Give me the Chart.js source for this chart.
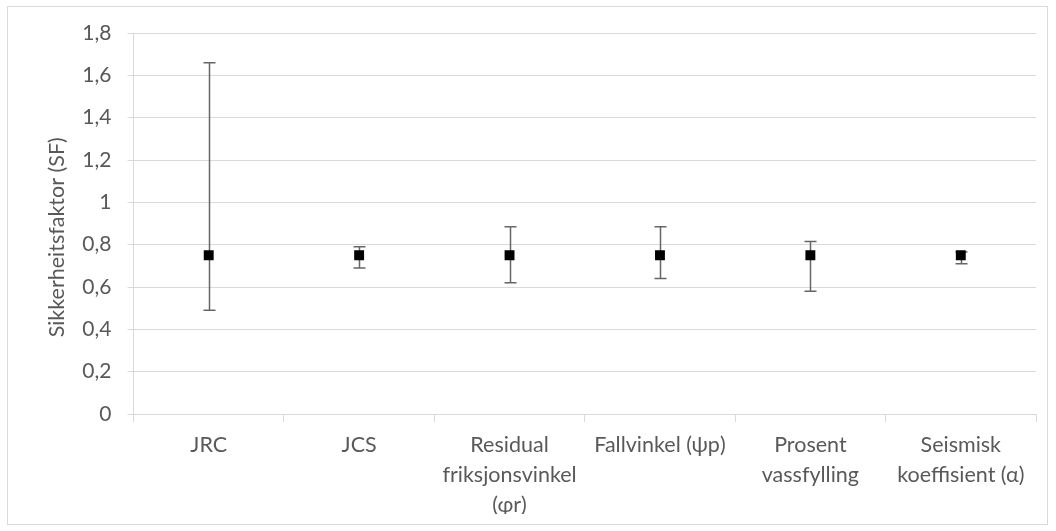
<!DOCTYPE html>
<html lang="no">
<head>
  <meta charset="UTF-8" />
  <title>Sikkerheitsfaktor</title>
  <script src="https://cdn.jsdelivr.net/npm/chart.js"></script>
  <style>
    body { margin: 0; padding: 0; background: #ffffff; }
    #wrap { width: 1056px; height: 531px; position: relative; }
  </style>
</head>
<body>
  <div id="wrap">
    <canvas id="sfChart" width="1056" height="531"></canvas>
  </div>

  <script>
    // data
    const categories = [
      'JRC',
      'JCS',
      ['Residual', 'friksjonsvinkel', '(φr)'],
      'Fallvinkel (ψp)',
      ['Prosent', 'vassfylling'],
      ['Seismisk', 'koeffisient (α)']
    ];
    const sfValues = [0.75, 0.75, 0.75, 0.75, 0.75, 0.75];
    const sfLow    = [0.49, 0.69, 0.62, 0.64, 0.58, 0.71];
    const sfHigh   = [1.66, 0.79, 0.885, 0.885, 0.815, 0.765];
    const yTickLabels = ['0', '0,2', '0,4', '0,6', '0,8', '1', '1,2', '1,4', '1,6', '1,8'];

    const textColor = '#595959';
    const lineColor = '#d9d9d9';
    const fontFamily = 'Lato, "Open Sans", sans-serif';

    // error bars drawn under the markers
    const errorBars = {
      id: 'errorBars',
      beforeDatasetsDraw(chart) {
        const ctx = chart.ctx;
        const x = chart.scales.x, y = chart.scales.y;
        ctx.save();
        ctx.strokeStyle = '#666666';
        ctx.lineWidth = 1.5;
        sfValues.forEach((v, i) => {
          const px = Math.round(x.getPixelForValue(i)) + 0.5;
          const top = y.getPixelForValue(sfHigh[i]);
          const bot = y.getPixelForValue(sfLow[i]);
          ctx.beginPath();
          ctx.moveTo(px, top); ctx.lineTo(px, bot);
          ctx.moveTo(px - 6, top); ctx.lineTo(px + 6, top);
          ctx.moveTo(px - 6, bot); ctx.lineTo(px + 6, bot);
          ctx.stroke();
        });
        ctx.restore();
      }
    };

    // outer frame of the chart
    const frame = {
      id: 'frame',
      beforeDraw(chart) {
        const ctx = chart.ctx;
        ctx.save();
        ctx.strokeStyle = lineColor;
        ctx.lineWidth = 1;
        ctx.strokeRect(7.5, 6.5, 1040, 518);
        ctx.restore();
      }
    };

    const ctx = document.getElementById('sfChart').getContext('2d');
    new Chart(ctx, {
      type: 'line',
      data: {
        labels: categories,
        datasets: [{
          label: 'SF',
          data: sfValues,
          showLine: false,
          pointStyle: 'rect',
          pointRadius: 7,
          pointHoverRadius: 7,
          backgroundColor: '#000000',
          borderColor: '#000000',
          borderWidth: 0
        }]
      },
      options: {
        responsive: false,
        animation: false,
        events: [],
        layout: { padding: { left: 44, top: 33, right: 20, bottom: 17 } },
        plugins: {
          legend: { display: false },
          tooltip: { enabled: false }
        },
        scales: {
          x: {
            offset: true,
            grid: {
              offset: true,
              drawOnChartArea: false,
              color: lineColor,
              tickLength: 8
            },
            border: { color: lineColor },
            ticks: {
              autoSkip: false,
              maxRotation: 0,
              minRotation: 0,
              padding: 8,
              color: textColor,
              font: { family: fontFamily, size: 21.5, lineHeight: 1.4 }
            },
            afterFit(scale) { scale.height = 100; }
          },
          y: {
            min: 0,
            max: 1.8,
            ticks: {
              stepSize: 0.2,
              padding: 16,
              color: textColor,
              font: { family: fontFamily, size: 21 },
              callback: (v, i) => yTickLabels[i]
            },
            grid: { color: lineColor, tickLength: 6 },
            border: { color: lineColor },
            title: {
              display: true,
              // trailing spaces nudge the rotated title down like the original
              text: 'Sikkerheitsfaktor (SF)     ',
              color: textColor,
              padding: 0,
              font: { family: fontFamily, size: 21.5, lineHeight: 1.2 }
            },
            afterFit(scale) { scale.width = 89.5; }
          }
        }
      },
      plugins: [frame, errorBars]
    });
  </script>
</body>
</html>
